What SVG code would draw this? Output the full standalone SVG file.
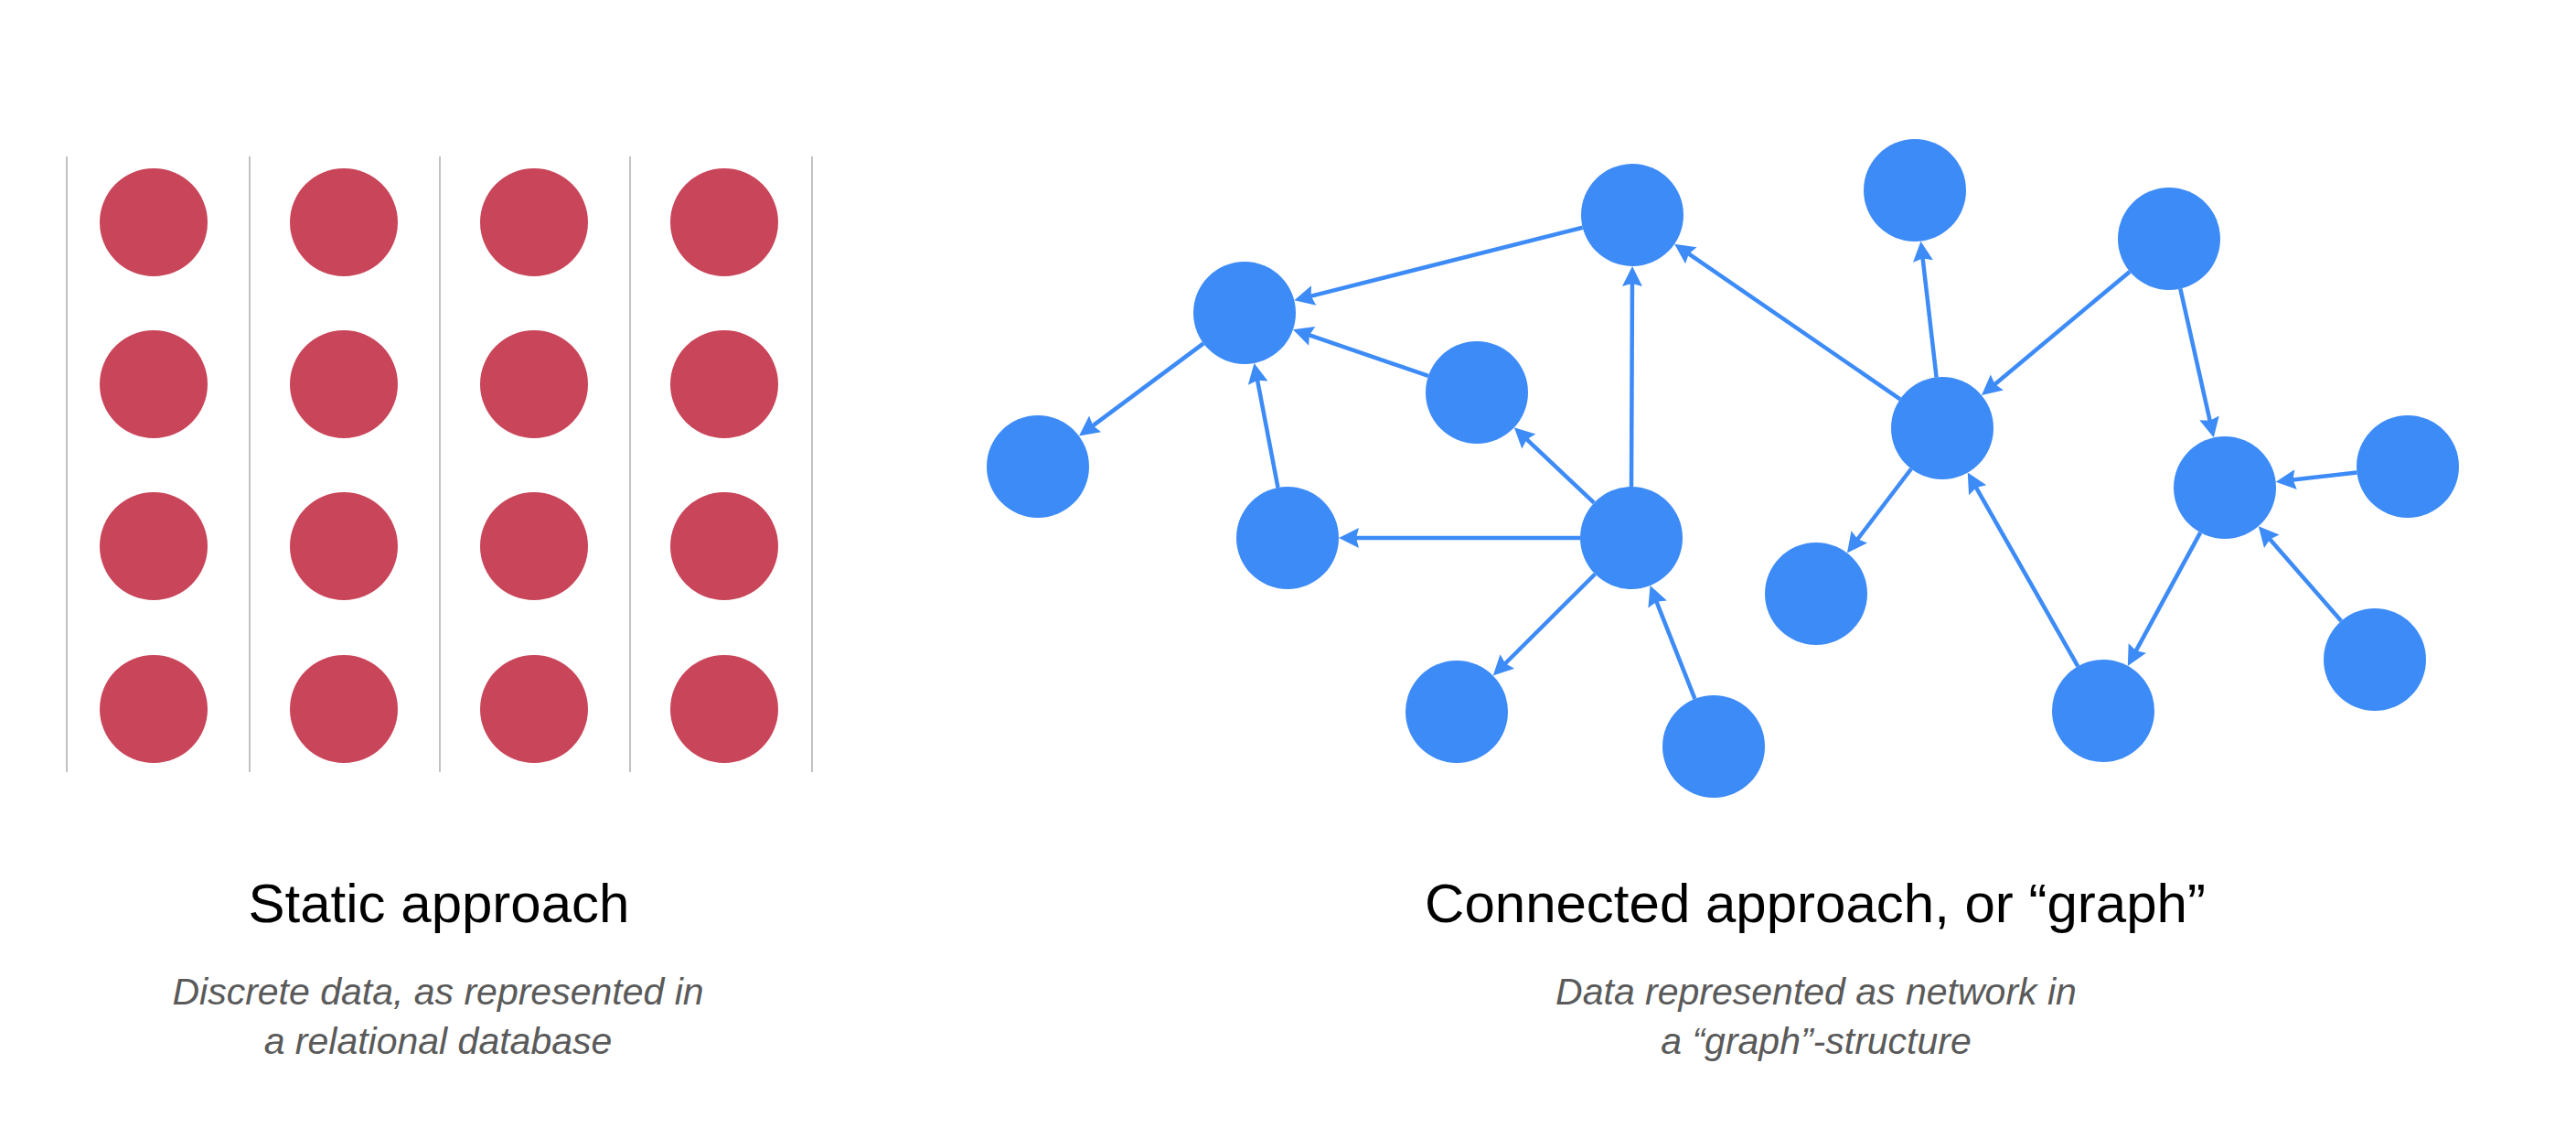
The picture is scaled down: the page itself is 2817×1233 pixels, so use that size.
<svg xmlns="http://www.w3.org/2000/svg" width="2817" height="1233" viewBox="0 0 2817 1233">
<style>
.sep{stroke:#b3b3b3;stroke-width:1.6}
.red{fill:#C94559}
.blue{fill:#3D8BF7}
.edge{stroke:#3D8BF7;stroke-width:4.5;fill:none;marker-end:url(#arr)}
.title{font-family:"Liberation Sans",Arial,sans-serif;font-size:60px;fill:#000;text-anchor:middle}
.sub{font-family:"Liberation Sans",Arial,sans-serif;font-size:41px;font-style:italic;fill:#5a5a5a;text-anchor:middle}
</style>
<defs>
<marker id="arr" markerUnits="userSpaceOnUse" markerWidth="24" markerHeight="24" refX="12" refY="11" orient="auto" overflow="visible">
<path d="M0,0 L22,11 L0,22 L3,11 z" fill="#3D8BF7"/>
</marker>
</defs>
<rect width="2817" height="1233" fill="#fff"/>
<g id="separators">
<line class="sep" x1="73" y1="171" x2="73" y2="844"/>
<line class="sep" x1="273" y1="171" x2="273" y2="844"/>
<line class="sep" x1="481" y1="171" x2="481" y2="844"/>
<line class="sep" x1="689" y1="171" x2="689" y2="844"/>
<line class="sep" x1="888" y1="171" x2="888" y2="844"/>
</g>
<g id="static-dots">
<circle class="red" cx="168" cy="243" r="59"/><circle class="red" cx="376" cy="243" r="59"/><circle class="red" cx="584" cy="243" r="59"/><circle class="red" cx="792" cy="243" r="59"/>
<circle class="red" cx="168" cy="420" r="59"/><circle class="red" cx="376" cy="420" r="59"/><circle class="red" cx="584" cy="420" r="59"/><circle class="red" cx="792" cy="420" r="59"/>
<circle class="red" cx="168" cy="597" r="59"/><circle class="red" cx="376" cy="597" r="59"/><circle class="red" cx="584" cy="597" r="59"/><circle class="red" cx="792" cy="597" r="59"/>
<circle class="red" cx="168" cy="775" r="59"/><circle class="red" cx="376" cy="775" r="59"/><circle class="red" cx="584" cy="775" r="59"/><circle class="red" cx="792" cy="775" r="59"/>
</g>
<g id="connectors">
<line class="edge" x1="1730.7" y1="248.7" x2="1425.0" y2="325.9"/>
<line class="edge" x1="1562.0" y1="410.9" x2="1423.4" y2="363.4"/>
<line class="edge" x1="1316.1" y1="375.4" x2="1188.0" y2="470.6"/>
<line class="edge" x1="1397.5" y1="533.0" x2="1373.4" y2="406.8"/>
<line class="edge" x1="1728" y1="588" x2="1474" y2="588"/>
<line class="edge" x1="1743.2" y1="549.6" x2="1663.1" y2="474.2"/>
<line class="edge" x1="1784" y1="532" x2="1785" y2="301"/>
<line class="edge" x1="1744.3" y1="627.5" x2="1639.8" y2="731.5"/>
<line class="edge" x1="1853.4" y1="763.9" x2="1808.2" y2="649.4"/>
<line class="edge" x1="2077.9" y1="436.3" x2="1839.4" y2="272.4"/>
<line class="edge" x1="2117.6" y1="412.4" x2="2101.6" y2="273.6"/>
<line class="edge" x1="2329.0" y1="296.9" x2="2174.7" y2="425.7"/>
<line class="edge" x1="2090.0" y1="512.5" x2="2026.0" y2="596.5"/>
<line class="edge" x1="2272.3" y1="728.3" x2="2156.7" y2="525.3"/>
<line class="edge" x1="2384.3" y1="315.6" x2="2418.6" y2="468.6"/>
<line class="edge" x1="2577.4" y1="516.4" x2="2498.6" y2="525.5"/>
<line class="edge" x1="2406.2" y1="582.2" x2="2331.6" y2="719.1"/>
<line class="edge" x1="2560.2" y1="678.8" x2="2476.4" y2="582.7"/>
</g>
<g id="node-A"><circle class="blue" cx="1785" cy="235" r="56"/></g>
<g id="node-B"><circle class="blue" cx="1361" cy="342" r="56"/></g>
<g id="node-C"><circle class="blue" cx="1135" cy="510" r="56"/></g>
<g id="node-D"><circle class="blue" cx="1615" cy="429" r="56"/></g>
<g id="node-E"><circle class="blue" cx="1408" cy="588" r="56"/></g>
<g id="node-F"><circle class="blue" cx="1784" cy="588" r="56"/></g>
<g id="node-G"><circle class="blue" cx="1593" cy="778" r="56"/></g>
<g id="node-H"><circle class="blue" cx="1874" cy="816" r="56"/></g>
<g id="node-I"><circle class="blue" cx="2094" cy="208" r="56"/></g>
<g id="node-J"><circle class="blue" cx="2372" cy="261" r="56"/></g>
<g id="node-K"><circle class="blue" cx="2124" cy="468" r="56"/></g>
<g id="node-L"><circle class="blue" cx="2433" cy="533" r="56"/></g>
<g id="node-M"><circle class="blue" cx="2633" cy="510" r="56"/></g>
<g id="node-N"><circle class="blue" cx="1986" cy="649" r="56"/></g>
<g id="node-O"><circle class="blue" cx="2300" cy="777" r="56"/></g>
<g id="node-P"><circle class="blue" cx="2597" cy="721" r="56"/></g>
<g id="labels">
<text class="title" x="480" y="1008">Static approach</text>
<text class="sub" x="479" y="1098">Discrete data, as represented in</text>
<text class="sub" x="479" y="1152">a relational database</text>
<text class="title" x="1985" y="1008">Connected approach, or “graph”</text>
<text class="sub" x="1986" y="1098">Data represented as network in</text>
<text class="sub" x="1986" y="1152">a “graph”-structure</text>
</g>
</svg>
